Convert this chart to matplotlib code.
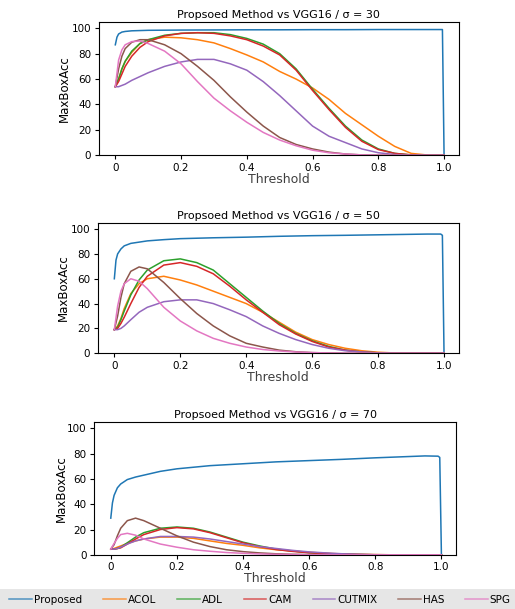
import numpy as np
import matplotlib
matplotlib.use("Agg")
import matplotlib.pyplot as plt

# threshold grids
thr = [0, 0.01, 0.02, 0.03, 0.05, 0.075, 0.1, 0.15, 0.2, 0.25, 0.3, 0.35, 0.4,
       0.45, 0.5, 0.55, 0.6, 0.65, 0.7, 0.75, 0.8, 0.85, 0.9, 0.95, 1.0]
thr_prop = [0, 0.005, 0.01, 0.02, 0.03, 0.05, 0.075, 0.1, 0.15, 0.2, 0.3, 0.4,
            0.5, 0.6, 0.7, 0.8, 0.9, 0.95, 0.99, 0.995, 1.0]

methods = ["ACOL", "ADL", "CAM", "CUTMIX", "HAS", "SPG"]
sigmas = [30, 50, 70]

# sigma = 30
prop_30 = [87, 93, 95.5, 97, 97.5, 98, 98.2, 98.4, 98.5, 98.6, 98.7, 98.8,
           98.8, 98.9, 98.9, 99, 99, 99, 99, 99, 0]
acol_30 = [54, 60, 68, 74, 81, 88, 91, 93, 92.5, 91, 88.5, 84, 79, 73.5, 66,
           60, 53, 44, 33, 24, 15, 7, 1.5, 0.2, 0]
adl_30 = [54, 60, 68, 74, 82, 88, 91, 94.5, 96, 96.5, 96.5, 95, 92, 87.5, 80,
          68, 52, 37, 23, 12, 5, 1.5, 0.3, 0, 0]
cam_30 = [54, 58, 64, 70, 78, 85, 89.5, 94, 96, 96.5, 96, 94, 91, 86, 79,
          67, 51, 36, 22, 11, 4.5, 1.5, 0.3, 0, 0]
cutmix_30 = [54, 54, 55, 56, 59, 62, 65, 70, 73.5, 75.5, 75.5, 72, 67, 58, 47,
             35, 23, 15, 10, 5, 2, 0.6, 0.1, 0, 0]
has_30 = [54, 68, 78, 84, 89, 91, 91, 87, 80, 70, 59, 46, 34, 23, 14,
          8.5, 5, 2.5, 1, 0.3, 0.1, 0, 0, 0, 0]
spg_30 = [54, 75, 83, 87, 89.5, 90, 88, 82, 72, 58, 45, 35, 26, 18, 12,
          7.5, 4, 2, 1, 0.3, 0.1, 0, 0, 0, 0]

# sigma = 50
prop_50 = [60, 75, 80, 84, 86.5, 88.5, 89.5, 90.5, 91.5, 92.3, 93, 93.5,
           94.2, 94.7, 95, 95.4, 95.8, 96, 96, 95, 0]
acol_50 = [19, 22, 28, 36, 48, 56, 60, 62, 59, 55, 50, 45, 40, 33, 25,
           17, 11, 7, 4, 2, 0.8, 0.2, 0, 0, 0]
adl_50 = [19, 21, 27, 34, 47, 59, 67, 74.5, 76, 73, 67, 56, 45, 34, 24,
          16, 10, 5.5, 2.5, 1, 0.3, 0, 0, 0, 0]
cam_50 = [19, 20, 24, 29, 40, 53, 62, 71, 73, 70, 64, 54, 43, 33, 23,
          15.5, 9.5, 5, 2.5, 1, 0.3, 0, 0, 0, 0]
cutmix_50 = [19, 19, 20, 22, 27, 33, 37, 41.5, 43, 43, 40, 35, 29.5, 22, 16,
             11, 7, 4, 2, 1, 0.3, 0, 0, 0, 0]
has_50 = [19, 30, 45, 56, 66, 69.5, 68, 57, 44, 32, 22, 14, 8, 5, 2.5,
          1.2, 0.5, 0.2, 0, 0, 0, 0, 0, 0, 0]
spg_50 = [19, 38, 50, 56, 60, 58, 52, 37, 26, 18, 12, 8, 5, 3, 1.8,
          1, 0.5, 0.2, 0, 0, 0, 0, 0, 0, 0]

# sigma = 70
prop_70 = [29, 41, 47, 53, 56, 59.5, 61.5, 63, 66, 68, 70.5, 72, 73.5, 74.5,
           75.5, 76.7, 77.7, 78.2, 78, 77, 0]
acol_70 = [4.5, 5, 6, 7, 9, 11, 12.5, 14, 14, 13, 11, 9, 7.5, 5.5, 4,
           3, 2, 1.2, 0.7, 0.4, 0.2, 0, 0, 0, 0]
adl_70 = [4.5, 4.5, 5, 6, 9.5, 14, 17.5, 21, 22, 21, 18, 14, 10, 7, 4.5,
          3, 1.7, 1, 0.5, 0.2, 0, 0, 0, 0, 0]
cam_70 = [4.5, 4.5, 5, 5.5, 8.5, 12.5, 16, 20, 21.5, 20.5, 17.5, 13.5, 9.5,
          6.5, 4.2, 2.7, 1.6, 1, 0.5, 0.2, 0, 0, 0, 0, 0]
cutmix_70 = [4.5, 4.5, 5, 6, 8.5, 11, 12.5, 14.5, 14.5, 14, 12.5, 10.5, 8.5,
             6.5, 5, 3.5, 2.3, 1.5, 0.8, 0.4, 0.1, 0, 0, 0, 0]
has_70 = [4.5, 8, 15, 21, 27, 29, 27, 21, 15, 10, 6.5, 4, 2.5, 1.5, 0.8,
          0.4, 0.2, 0, 0, 0, 0, 0, 0, 0, 0]
spg_70 = [4.5, 9, 13, 16, 17, 15.5, 12.5, 8.5, 6, 4, 2.8, 1.8, 1.2, 0.7, 0.4,
          0.2, 0, 0, 0, 0, 0, 0, 0, 0, 0]

proposed = [prop_30, prop_50, prop_70]
baselines = [
    [acol_30, adl_30, cam_30, cutmix_30, has_30, spg_30],
    [acol_50, adl_50, cam_50, cutmix_50, has_50, spg_50],
    [acol_70, adl_70, cam_70, cutmix_70, has_70, spg_70],
]

colors = ["#1f77b4", "#ff7f0e", "#2ca02c", "#d62728", "#9467bd", "#8c564b", "#e377c2"]

fig = plt.figure(figsize=(5.15, 6.09), dpi=100)
positions = [
    [0.192, 0.745, 0.699, 0.219],
    [0.190, 0.420, 0.701, 0.214],
    [0.183, 0.089, 0.703, 0.218],
]
ylabel_x = [-0.077, -0.077, -0.074]

for i, s in enumerate(sigmas):
    ax = fig.add_axes(positions[i])
    ax.plot(thr_prop, proposed[i], color=colors[0], lw=1.1, label="Proposed")
    for j, m in enumerate(methods):
        ax.plot(thr, baselines[i][j], color=colors[j + 1], lw=1.1, label=m)
    ax.set_xlim(-0.05, 1.045)
    ax.set_ylim(0, 105)
    ax.set_xticks([0, 0.2, 0.4, 0.6, 0.8, 1.0])
    ax.set_xticklabels(["0", "0.2", "0.4", "0.6", "0.8", "1.0"])
    ax.tick_params(labelsize=7.5, length=3, width=0.8, pad=2.5)
    ax.set_title(f"Propsoed Method vs VGG16 / \u03c3 = {s}", fontsize=8, pad=3)
    ax.set_xlabel("Threshold", fontsize=9, color="#404040", labelpad=0)
    ax.set_ylabel("MaxBoxAcc", fontsize=8.5)
    ax.yaxis.set_label_coords(ylabel_x[i], 0.5)

# grey band behind the legend
fig.patches.append(plt.Rectangle((0, 0), 1, 0.033, transform=fig.transFigure,
                                 facecolor="#e6e6e6", edgecolor="none", zorder=-1))

handles, labels = ax.get_legend_handles_labels()
leg = fig.legend(handles, labels, loc="lower left", ncol=7, mode="expand",
                 bbox_to_anchor=(0.01, 0, 0.99, 0.033), borderaxespad=0,
                 fontsize=7.5, frameon=False,
                 handlelength=2.2, handletextpad=0.15, columnspacing=0.5)
for h in leg.get_lines():
    h.set_alpha(0.75)

fig.savefig("out.png", dpi=100)
